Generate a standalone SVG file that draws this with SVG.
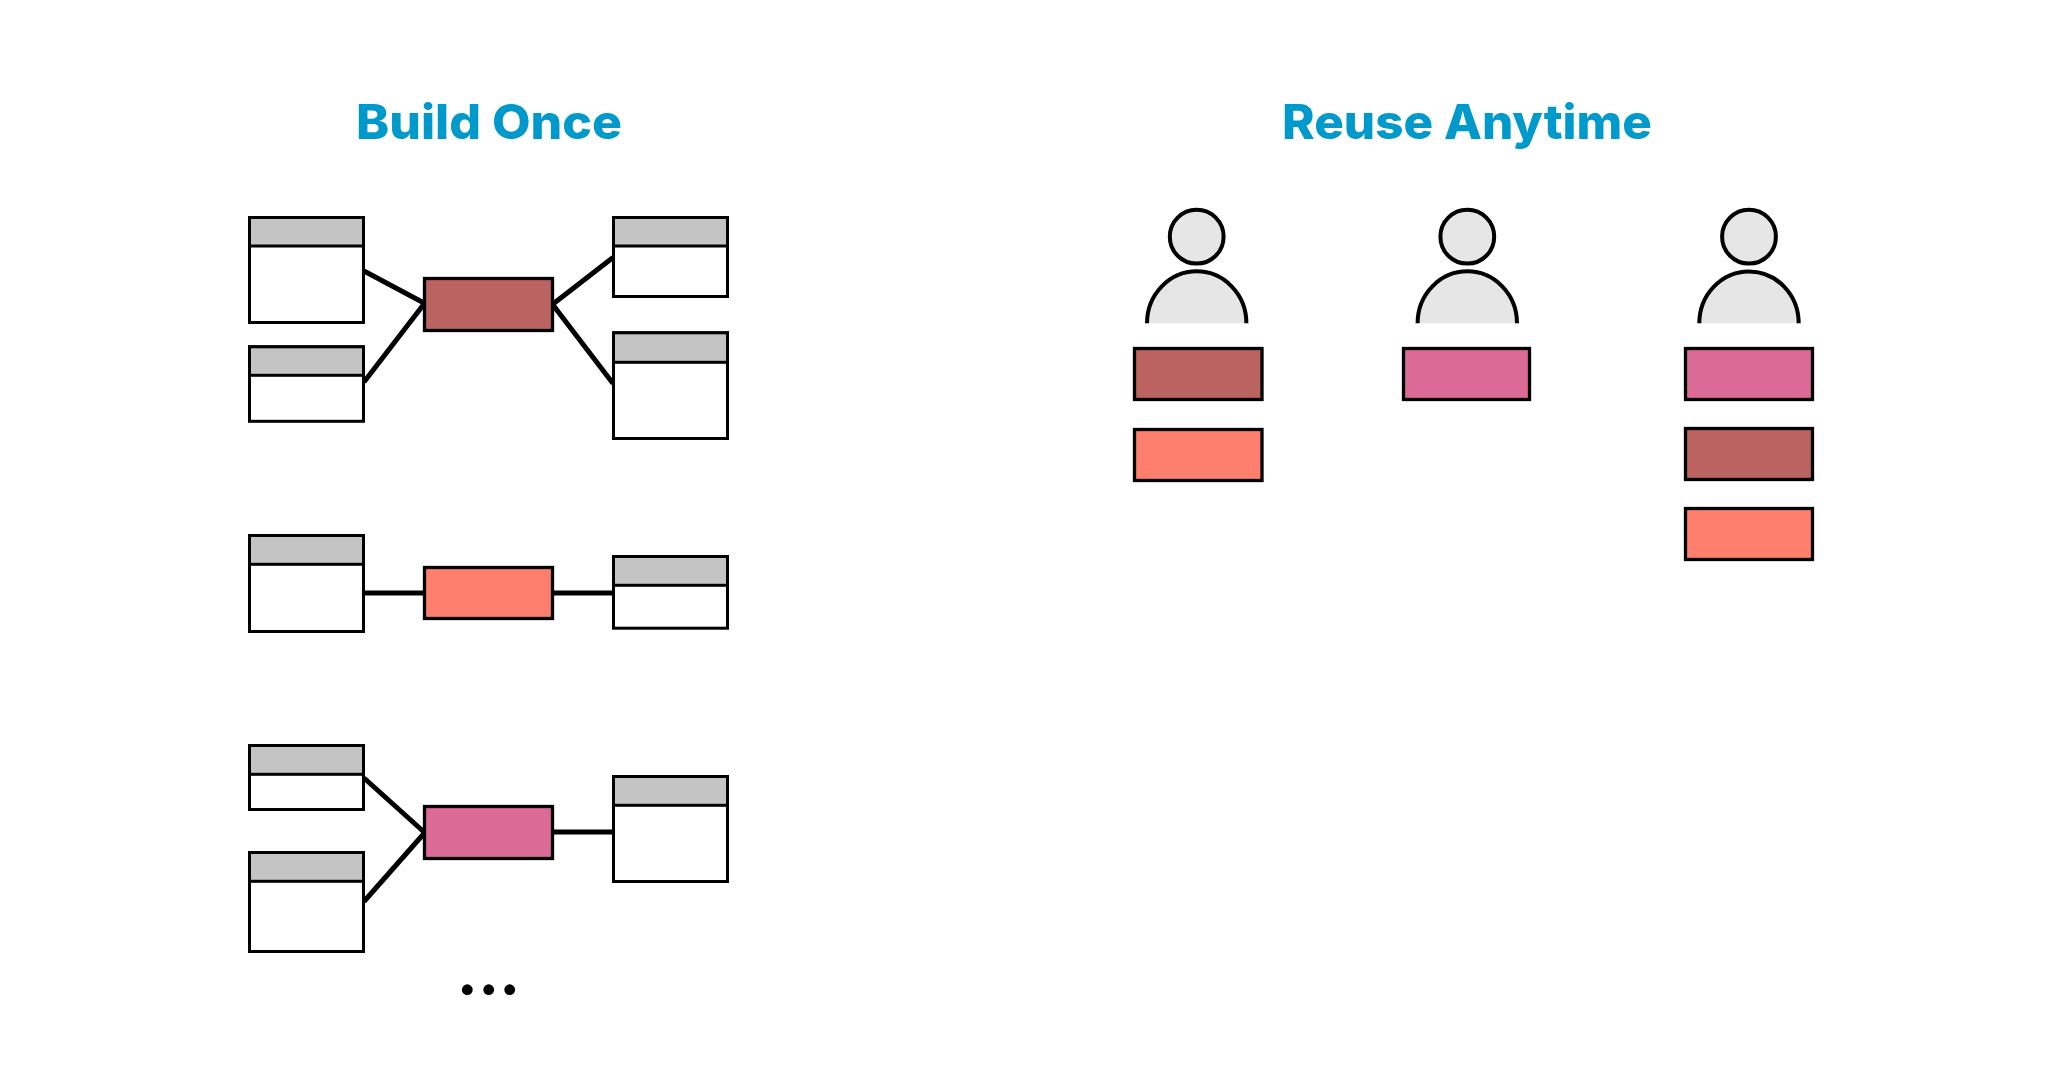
<svg xmlns="http://www.w3.org/2000/svg" width="2048" height="1072" viewBox="0 0 2048 1072">
<style>
.title{font-family:"Inter","Liberation Sans",sans-serif;font-weight:800;font-size:48px;fill:#0099cc}
.body{fill:#fff;stroke:#000;stroke-width:3}
.head{fill:#c4c4c4;stroke:#000;stroke-width:3}
.svc{stroke:#000;stroke-width:3.300}
.brown{fill:#ba6361}.salmon{fill:#ff7f6e}.pink{fill:#db6a96}
.conn{stroke:#000;stroke-width:5;fill:none}
.face{fill:#e6e6e6;stroke:#000;stroke-width:4}
.torso{fill:#e6e6e6}
.outline{fill:none;stroke:#000;stroke-width:4}
</style>
<rect width="2048" height="1072" fill="#fff"/>
<text class="title" x="356" y="139" textLength="266" lengthAdjust="spacingAndGlyphs">Build Once</text>
<text class="title" x="1282" y="139" textLength="370" lengthAdjust="spacingAndGlyphs">Reuse Anytime</text>
<g id="connectors">
<line class="conn" x1="364" y1="271" x2="424" y2="303"/>
<line class="conn" x1="364" y1="382" x2="424" y2="304"/>
<line class="conn" x1="553" y1="304" x2="613" y2="257.500"/>
<line class="conn" x1="553" y1="305" x2="613" y2="383.500"/>
<line class="conn" x1="364" y1="593" x2="424" y2="593"/>
<line class="conn" x1="553" y1="593" x2="613" y2="593"/>
<line class="conn" x1="364" y1="778" x2="424" y2="832"/>
<line class="conn" x1="364" y1="901.500" x2="424" y2="833.500"/>
<line class="conn" x1="553" y1="832" x2="613" y2="832"/>
</g>
<g id="table-1"><rect class="body" x="249.500" y="217.500" width="114" height="105"/><rect class="head" x="249.500" y="217.500" width="114" height="28.500"/></g>
<g id="table-2"><rect class="body" x="249.500" y="346.800" width="114" height="74.500"/><rect class="head" x="249.500" y="346.800" width="114" height="28.500"/></g>
<g id="table-3"><rect class="body" x="613.500" y="217.500" width="114" height="79"/><rect class="head" x="613.500" y="217.500" width="114" height="28.500"/></g>
<g id="table-4"><rect class="body" x="613.500" y="332.800" width="114" height="105.700"/><rect class="head" x="613.500" y="332.800" width="114" height="29.500"/></g>
<g id="service-1"><rect class="svc brown" x="424.500" y="278.500" width="128" height="52"/></g>
<g id="table-5"><rect class="body" x="249.500" y="535.500" width="114" height="96"/><rect class="head" x="249.500" y="535.500" width="114" height="28.800"/></g>
<g id="table-6"><rect class="body" x="613.500" y="556.500" width="114" height="71.700"/><rect class="head" x="613.500" y="556.500" width="114" height="28.800"/></g>
<g id="service-2"><rect class="svc salmon" x="424.500" y="567.500" width="128" height="51"/></g>
<g id="table-7"><rect class="body" x="249.500" y="745.500" width="114" height="64"/><rect class="head" x="249.500" y="745.500" width="114" height="28.800"/></g>
<g id="table-8"><rect class="body" x="249.500" y="852.500" width="114" height="99"/><rect class="head" x="249.500" y="852.500" width="114" height="28.800"/></g>
<g id="table-9"><rect class="body" x="613.500" y="776.500" width="114" height="105"/><rect class="head" x="613.500" y="776.500" width="114" height="28.800"/></g>
<g id="service-3"><rect class="svc pink" x="424.500" y="806.500" width="128" height="52"/></g>
<g id="ellipsis"><circle cx="467.300" cy="989.700" r="5.400"/><circle cx="488.700" cy="989.700" r="5.400"/><circle cx="509.700" cy="989.700" r="5.400"/></g>
<g id="user-1">
<circle class="face" cx="1196.700" cy="236.700" r="26.900"/>
<path class="torso" d="M1147 323.300A49.700 52 0 0 1 1246.400 323.300Z"/>
<path class="outline" d="M1147 323.300A49.700 52 0 0 1 1246.400 323.300"/>
<rect class="svc brown" x="1134.500" y="348.500" width="127.500" height="51"/>
<rect class="svc salmon" x="1134.500" y="429.500" width="127.500" height="51"/>
</g>
<g id="user-2">
<circle class="face" cx="1467.300" cy="236.700" r="26.900"/>
<path class="torso" d="M1417.600 323.300A49.700 52 0 0 1 1517 323.300Z"/>
<path class="outline" d="M1417.600 323.300A49.700 52 0 0 1 1517 323.300"/>
<rect class="svc pink" x="1403.500" y="348.500" width="126" height="51"/>
</g>
<g id="user-3">
<circle class="face" cx="1749" cy="236.700" r="26.900"/>
<path class="torso" d="M1699.300 323.300A49.700 52 0 0 1 1798.700 323.300Z"/>
<path class="outline" d="M1699.300 323.300A49.700 52 0 0 1 1798.700 323.300"/>
<rect class="svc pink" x="1685.500" y="348.500" width="127" height="51"/>
<rect class="svc brown" x="1685.500" y="428.500" width="127" height="51"/>
<rect class="svc salmon" x="1685.500" y="508.500" width="127" height="51"/>
</g>
</svg>
